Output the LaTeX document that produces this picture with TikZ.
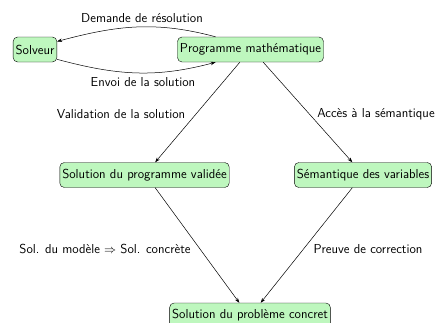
\documentclass[tikz,border=0pt]{standalone}
\usetikzlibrary{arrows.meta}
\definecolor{boxgreen}{RGB}{190,247,190}
\begin{document}
\begin{tikzpicture}[x=1pt,y=-1pt,
  box/.style={draw=black, fill=boxgreen, rounded corners=4.5pt, minimum height=25pt, inner xsep=2.5pt, inner ysep=0pt, font=\sffamily\fontsize{13}{15}\selectfont},
  lbl/.style={font=\sffamily\fontsize{13}{15}\selectfont, inner sep=0pt},
  arr/.style={-{Stealth[length=5pt,width=3.5pt]}, line width=0.5pt}]
\useasboundingbox (0,0) rectangle (442,322);
\node[box] (solv) at (35,49.5) {Solveur};
\node[box] (prog) at (250.5,49.5) {Programme mathématique};
\node[box] (valid) at (144.5,175) {Solution du programme validée};
\node[box] (sem) at (363,175) {Sémantique des variables};
\node[box] (conc) at (250,315.5) {Solution du problème concret};
\draw[arr] (prog.160) to[out=165,in=15] (solv.20);
\draw[arr] (solv.-24) to[out=-15,in=195] (prog.200);
\draw[arr] (prog.-130) -- (valid.50);
\draw[arr] (prog.-45) -- (sem.130);
\draw[arr] (valid.-50) -- (conc.130);
\draw[arr] (sem.-130) -- (conc.50);
\node[lbl] (l1) at (142,18) {Demande de résolution};
\node[lbl] (l2) at (143,82) {Envoi de la solution};
\node[lbl] (l3) at (121,114) {Validation de la solution};
\node[lbl] (l4) at (376,114) {Accès à la sémantique};
\node[lbl] (l5) at (105,249) {Sol. du modèle $\Rightarrow$ Sol. concrète};
\node[lbl] (l6) at (368,249) {Preuve de correction};
\end{tikzpicture}
\end{document}
